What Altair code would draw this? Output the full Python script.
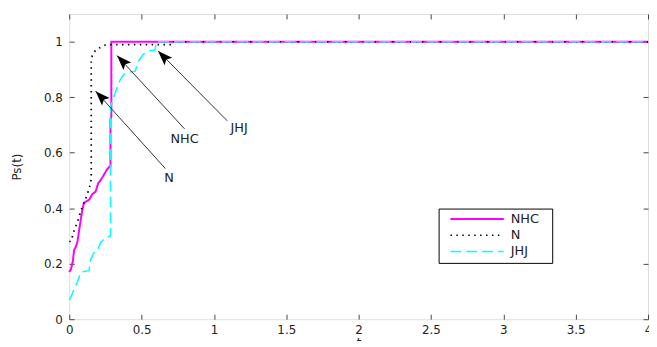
import altair as alt
import pandas as pd

# ---- data ----
series_names = ["NHC", "N", "JHJ"]

nhc_t = [0, 0.012, 0.025, 0.034, 0.045, 0.057, 0.068, 0.08, 0.091, 0.102, 0.137, 0.159,
         0.182, 0.2, 0.216, 0.239, 0.261, 0.278, 0.285, 0.285, 0.291, 0.291, 4.0]
nhc_v = [0.17, 0.18, 0.21, 0.25, 0.26, 0.28, 0.32, 0.36, 0.395, 0.42, 0.43, 0.45,
         0.46, 0.49, 0.50, 0.52, 0.54, 0.55, 0.55, 0.72, 0.73, 1.0, 1.0]

n_t = [0, 0.012, 0.034, 0.057, 0.08, 0.102, 0.125, 0.148, 0.152, 0.152, 0.159, 0.182,
       0.216, 0.25, 0.285, 0.717, 0.72, 4.0]
n_v = [0.28, 0.28, 0.32, 0.35, 0.39, 0.42, 0.45, 0.49, 0.51, 0.93, 0.95, 0.97,
       0.98, 0.988, 0.99, 0.99, 1.0, 1.0]

jhj_t = [0, 0.012, 0.034, 0.057, 0.08, 0.137, 0.148, 0.171, 0.193, 0.216, 0.239, 0.273,
         0.285, 0.285, 0.307, 0.33, 0.353, 0.375, 0.398, 0.455, 0.478, 0.512, 0.558,
         0.592, 0.603, 4.0]
jhj_v = [0.07, 0.08, 0.11, 0.135, 0.17, 0.175, 0.215, 0.24, 0.247, 0.275, 0.288, 0.298,
         0.30, 0.765, 0.80, 0.834, 0.864, 0.881, 0.89, 0.893, 0.93, 0.955, 0.968,
         0.97, 1.0, 1.0]

x_ticks = [0, 0.5, 1, 1.5, 2, 2.5, 3, 3.5, 4]
y_ticks = [0, 0.2, 0.4, 0.6, 0.8, 1]

arrow_labels = ["N", "NHC", "JHJ"]
arrow_tail_t = [0.664, 0.797, 1.092]
arrow_tail_v = [0.543, 0.686, 0.715]
arrow_head_t = [0.182, 0.33, 0.614]
arrow_head_v = [0.822, 0.95, 0.967]
label_t = [0.689, 0.797, 1.174]
label_v = [0.509, 0.651, 0.69]

# ---- tables ----
def sdf(name, ts, vs):
    return pd.DataFrame({"t": ts, "v": vs, "series": name, "idx": list(range(len(ts)))})

df_nhc = sdf("NHC", nhc_t, nhc_v)
df_n = sdf("N", n_t, n_v)
df_jhj = sdf("JHJ", jhj_t, jhj_v)
df_ann = pd.DataFrame({
    "label": arrow_labels, "t0": arrow_tail_t, "v0": arrow_tail_v,
    "t1": arrow_head_t, "v1": arrow_head_v, "lt": label_t, "lv": label_v,
})

FONT = "DejaVu Sans"
xscale = alt.Scale(domain=[0, 4], nice=False, zero=False)
yscale = alt.Scale(domain=[0, 1.1], nice=False, zero=False)

x_axis = alt.Axis(orient="bottom", values=x_ticks, format="~g", offset=-5, tickSize=5,
                  domain=False, grid=False, labelPadding=5, labelFont=FONT, labelFontSize=12,
                  labelColor="#222", tickColor="#444", labelFlush=False, labelOverlap=False,
                  titleFont=FONT, titleFontSize=12, titleFontWeight="normal",
                  titleColor="#222", titlePadding=3)
y_axis = alt.Axis(orient="left", values=y_ticks, format="~g", offset=-5, tickSize=5,
                  domain=False, grid=False, labelPadding=7, labelFont=FONT, labelFontSize=12,
                  labelColor="#222", tickColor="#444", labelFlush=False, labelOverlap=False,
                  titleFont=FONT, titleFontSize=12, titleFontWeight="normal",
                  titleColor="#222", titlePadding=20)
x_top = alt.Axis(orient="top", values=x_ticks, offset=-5, tickSize=5, labels=False,
                 domain=False, grid=False, tickColor="#444", title="")
y_right = alt.Axis(orient="right", values=y_ticks, offset=-5, tickSize=5, labels=False,
                   domain=False, grid=False, tickColor="#444", title="")

legend = alt.Legend(orient="none", legendX=374, legendY=197, direction="vertical",
                    symbolType="stroke", symbolSize=2916, symbolStrokeWidth=2,
                    clipHeight=13, rowPadding=2.5, padding=4, symbolOffset=7,
                    labelOffset=6, labelFont=FONT, labelFontSize=13, labelColor="#222",
                    strokeColor="black", fillColor="white", cornerRadius=0,
                    title="ii", titleOrient="right", titleColor="white",
                    titleFontSize=10, titlePadding=3)

color_scale = alt.Scale(domain=series_names, range=["#ff00ff", "#000000", "#00ffff"])
dash_scale = alt.Scale(domain=series_names, range=[[1, 0], [1.5, 4.5], [11, 5]])
width_scale = alt.Scale(domain=series_names, range=[2, 1.5, 2.5])


def line_layer(df, with_axes):
    return alt.Chart(df).mark_line().encode(
        x=alt.X("t:Q", scale=xscale, axis=x_axis if with_axes else None, title="t"),
        y=alt.Y("v:Q", scale=yscale, axis=y_axis if with_axes else None, title="Ps(t)"),
        color=alt.Color("series:N", scale=color_scale, legend=legend),
        strokeDash=alt.StrokeDash("series:N", scale=dash_scale, legend=legend),
        strokeWidth=alt.StrokeWidth("series:N", scale=width_scale, legend=None),
        order=alt.Order("idx:Q"),
    )


l_nhc = line_layer(df_nhc, True)
l_n = line_layer(df_n, False)
l_jhj = line_layer(df_jhj, False)

arrows = alt.Chart(df_ann).mark_rule(color="#333", strokeWidth=1).encode(
    x=alt.X("t0:Q", scale=xscale, axis=None),
    y=alt.Y("v0:Q", scale=yscale, axis=None),
    x2="t1:Q",
    y2="v1:Q",
)

head_path = "M0,0 L0.36,1 L0,0.8 L-0.36,1 Z"
heads = alt.Chart(df_ann).mark_point(shape=head_path, filled=True, color="black",
                                     size=900, angle=316, opacity=1, strokeWidth=0).encode(
    x=alt.X("t1:Q", scale=xscale, axis=None),
    y=alt.Y("v1:Q", scale=yscale, axis=None),
)

texts = alt.Chart(df_ann).mark_text(font=FONT, fontSize=13, color="#222",
                                    align="center", baseline="middle").encode(
    x=alt.X("lt:Q", scale=xscale, axis=x_top),
    y=alt.Y("lv:Q", scale=yscale, axis=y_right),
    text="label:N",
)

chart = alt.layer(l_nhc, l_n, l_jhj, arrows, heads, texts).properties(
    width=586, height=309,
    autosize=alt.AutoSizeParams(type="none"),
    padding={"left": 62, "top": 4, "right": 1, "bottom": 20},
).configure_view(stroke="#444", strokeWidth=1).configure(background="white")

chart.save("out.html", embed_options={"renderer": "svg", "actions": False})
